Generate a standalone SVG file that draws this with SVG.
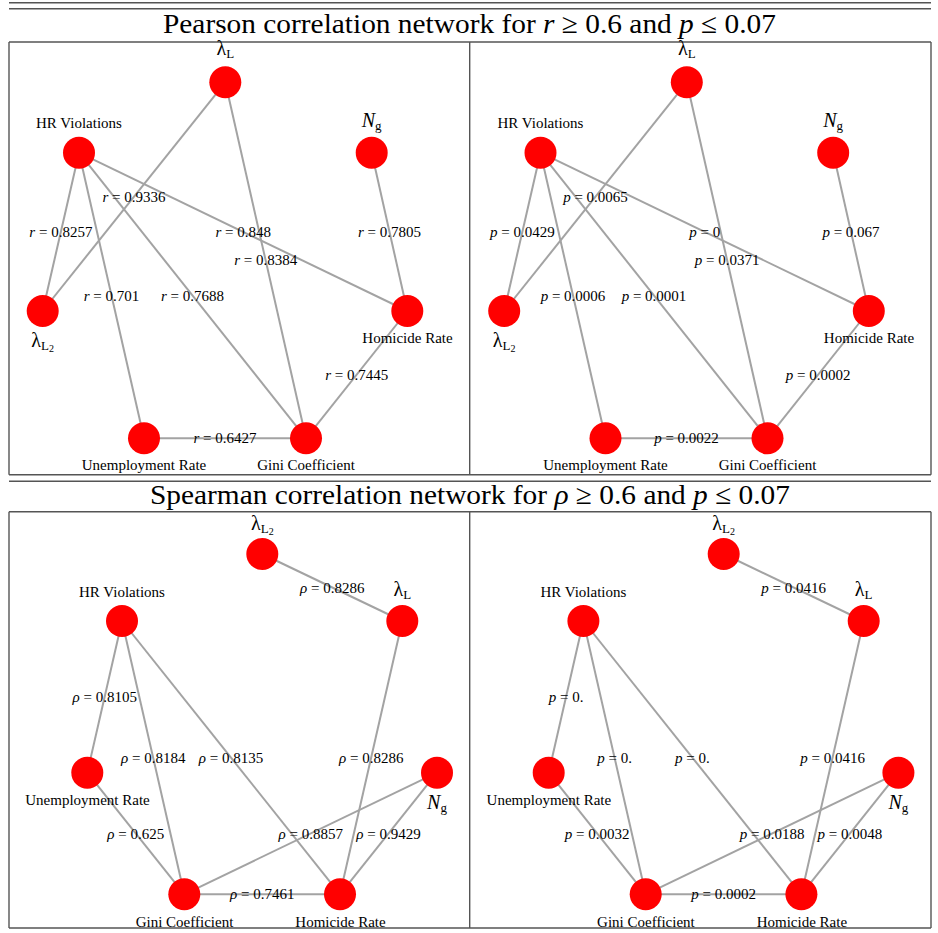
<svg xmlns="http://www.w3.org/2000/svg" width="938" height="933" viewBox="0 0 938 933">
<style>
.rule{stroke:#555;stroke-width:1.4;fill:none}
.edge{stroke:#a3a3a3;stroke-width:2}
.node circle{fill:#ff0000}
text{font-family:"Liberation Serif","Times New Roman",serif;fill:#000}
.lbl{font-size:15px;text-anchor:middle}
.math{font-size:20px;text-anchor:middle}
.sub{font-size:13px}
.sub2{font-size:10px}
.it{font-style:italic}
.title{font-size:28px;text-anchor:middle}
</style>
<rect width="938" height="933" fill="#fff"/>
<g id="table">
<line class="rule" x1="9" y1="2.7" x2="931" y2="2.7"/>
<line class="rule" x1="9" y1="8.7" x2="931" y2="8.7"/>
<line class="rule" x1="9" y1="42" x2="931" y2="42"/>
<line class="rule" x1="9" y1="42" x2="9" y2="474.7"/>
<line class="rule" x1="469.7" y1="42" x2="469.7" y2="474.7"/>
<line class="rule" x1="931" y1="42" x2="931" y2="474.7"/>
<line class="rule" x1="9" y1="474.7" x2="931" y2="474.7"/>
<line class="rule" x1="9" y1="481.3" x2="931" y2="481.3"/>
<line class="rule" x1="9" y1="511.7" x2="931" y2="511.7"/>
<line class="rule" x1="9" y1="511.7" x2="9" y2="928"/>
<line class="rule" x1="469.7" y1="511.7" x2="469.7" y2="928"/>
<line class="rule" x1="931" y1="511.7" x2="931" y2="928"/>
<line class="rule" x1="9" y1="928" x2="931" y2="928"/>
<text class="title" x="469.5" y="33" textLength="613" lengthAdjust="spacingAndGlyphs">Pearson correlation network for <tspan class="it">r</tspan> ≥ 0.6 and <tspan class="it">p</tspan> ≤ 0.07</text>
<text class="title" x="470" y="504" textLength="640" lengthAdjust="spacingAndGlyphs">Spearman correlation network for <tspan class="it">ρ</tspan> ≥ 0.6 and <tspan class="it">p</tspan> ≤ 0.07</text>
</g>

<!-- Panel A: Pearson r -->
<g id="connectors-A">
<line class="edge" x1="79" y1="152.7" x2="42.7" y2="311"/>
<line class="edge" x1="225.3" y1="82.3" x2="42.7" y2="311"/>
<line class="edge" x1="225.3" y1="82.3" x2="306" y2="438.3"/>
<line class="edge" x1="79" y1="152.7" x2="407.3" y2="311"/>
<line class="edge" x1="371.7" y1="152.7" x2="407.3" y2="311"/>
<line class="edge" x1="79" y1="152.7" x2="144" y2="438.3"/>
<line class="edge" x1="79" y1="152.7" x2="306" y2="438.3"/>
<line class="edge" x1="407.3" y1="311" x2="306" y2="438.3"/>
<line class="edge" x1="144" y1="438.3" x2="306" y2="438.3"/>
</g>
<g id="edge-labels-A">
<text class="lbl" x="60.9" y="236.9"><tspan class="it">r</tspan> = 0.8257</text>
<text class="lbl" x="134" y="201.7"><tspan class="it">r</tspan> = 0.9336</text>
<text class="lbl" x="265.7" y="265.3"><tspan class="it">r</tspan> = 0.8384</text>
<text class="lbl" x="243.2" y="236.9"><tspan class="it">r</tspan> = 0.848</text>
<text class="lbl" x="389.5" y="236.9"><tspan class="it">r</tspan> = 0.7805</text>
<text class="lbl" x="111.5" y="300.5"><tspan class="it">r</tspan> = 0.701</text>
<text class="lbl" x="192.5" y="300.5"><tspan class="it">r</tspan> = 0.7688</text>
<text class="lbl" x="356.7" y="379.7"><tspan class="it">r</tspan> = 0.7445</text>
<text class="lbl" x="225" y="443.3"><tspan class="it">r</tspan> = 0.6427</text>
</g>
<g id="A-lambdaL" class="node"><circle cx="225.3" cy="82.3" r="16"/><text class="math" x="225.3" y="55">λ<tspan class="sub" dy="3">L</tspan></text></g>
<g id="A-hr" class="node"><circle cx="79" cy="152.7" r="16"/><text class="lbl" x="79" y="128">HR Violations</text></g>
<g id="A-ng" class="node"><circle cx="371.7" cy="152.7" r="16"/><text class="math" x="371.7" y="127"><tspan class="it">N</tspan><tspan class="sub" dy="3">g</tspan></text></g>
<g id="A-lambdaL2" class="node"><circle cx="42.7" cy="311" r="16"/><text class="math" x="42.7" y="347">λ<tspan class="sub" dy="3">L</tspan><tspan class="sub2" dy="2">2</tspan></text></g>
<g id="A-homicide" class="node"><circle cx="407.3" cy="311" r="16"/><text class="lbl" x="407.5" y="343">Homicide Rate</text></g>
<g id="A-unemp" class="node"><circle cx="144" cy="438.3" r="16"/><text class="lbl" x="144" y="470">Unemployment Rate</text></g>
<g id="A-gini" class="node"><circle cx="306" cy="438.3" r="16"/><text class="lbl" x="306" y="470">Gini Coefficient</text></g>

<!-- Panel B: Pearson p -->
<g transform="translate(461.5,0)">
<g id="connectors-B">
<line class="edge" x1="79" y1="152.7" x2="42.7" y2="311"/>
<line class="edge" x1="225.3" y1="82.3" x2="42.7" y2="311"/>
<line class="edge" x1="225.3" y1="82.3" x2="306" y2="438.3"/>
<line class="edge" x1="79" y1="152.7" x2="407.3" y2="311"/>
<line class="edge" x1="371.7" y1="152.7" x2="407.3" y2="311"/>
<line class="edge" x1="79" y1="152.7" x2="144" y2="438.3"/>
<line class="edge" x1="79" y1="152.7" x2="306" y2="438.3"/>
<line class="edge" x1="407.3" y1="311" x2="306" y2="438.3"/>
<line class="edge" x1="144" y1="438.3" x2="306" y2="438.3"/>
</g>
<g id="edge-labels-B">
<text class="lbl" x="60.9" y="236.9"><tspan class="it">p</tspan> = 0.0429</text>
<text class="lbl" x="134" y="201.7"><tspan class="it">p</tspan> = 0.0065</text>
<text class="lbl" x="265.7" y="265.3"><tspan class="it">p</tspan> = 0.0371</text>
<text class="lbl" x="243.2" y="236.9"><tspan class="it">p</tspan> = 0</text>
<text class="lbl" x="389.5" y="236.9"><tspan class="it">p</tspan> = 0.067</text>
<text class="lbl" x="111.5" y="300.5"><tspan class="it">p</tspan> = 0.0006</text>
<text class="lbl" x="192.5" y="300.5"><tspan class="it">p</tspan> = 0.0001</text>
<text class="lbl" x="356.7" y="379.7"><tspan class="it">p</tspan> = 0.0002</text>
<text class="lbl" x="225" y="443.3"><tspan class="it">p</tspan> = 0.0022</text>
</g>
<g id="B-lambdaL" class="node"><circle cx="225.3" cy="82.3" r="16"/><text class="math" x="225.3" y="55">λ<tspan class="sub" dy="3">L</tspan></text></g>
<g id="B-hr" class="node"><circle cx="79" cy="152.7" r="16"/><text class="lbl" x="79" y="128">HR Violations</text></g>
<g id="B-ng" class="node"><circle cx="371.7" cy="152.7" r="16"/><text class="math" x="371.7" y="127"><tspan class="it">N</tspan><tspan class="sub" dy="3">g</tspan></text></g>
<g id="B-lambdaL2" class="node"><circle cx="42.7" cy="311" r="16"/><text class="math" x="42.7" y="347">λ<tspan class="sub" dy="3">L</tspan><tspan class="sub2" dy="2">2</tspan></text></g>
<g id="B-homicide" class="node"><circle cx="407.3" cy="311" r="16"/><text class="lbl" x="407.5" y="343">Homicide Rate</text></g>
<g id="B-unemp" class="node"><circle cx="144" cy="438.3" r="16"/><text class="lbl" x="144" y="470">Unemployment Rate</text></g>
<g id="B-gini" class="node"><circle cx="306" cy="438.3" r="16"/><text class="lbl" x="306" y="470">Gini Coefficient</text></g>
</g>

<!-- Panel C: Spearman rho -->
<g id="connectors-C">
<line class="edge" x1="262.3" y1="554" x2="402.3" y2="621"/>
<line class="edge" x1="122" y1="621" x2="87.3" y2="772.7"/>
<line class="edge" x1="122" y1="621" x2="184.3" y2="894.3"/>
<line class="edge" x1="122" y1="621" x2="340" y2="894.3"/>
<line class="edge" x1="402.3" y1="621" x2="340" y2="894.3"/>
<line class="edge" x1="87.3" y1="772.7" x2="184.3" y2="894.3"/>
<line class="edge" x1="437" y1="772.7" x2="184.3" y2="894.3"/>
<line class="edge" x1="437" y1="772.7" x2="340" y2="894.3"/>
<line class="edge" x1="184.3" y1="894.3" x2="340" y2="894.3"/>
</g>
<g id="edge-labels-C">
<text class="lbl" x="332.3" y="592.5"><tspan class="it">ρ</tspan> = 0.8286</text>
<text class="lbl" x="104.7" y="701.9"><tspan class="it">ρ</tspan> = 0.8105</text>
<text class="lbl" x="153.2" y="762.7"><tspan class="it">ρ</tspan> = 0.8184</text>
<text class="lbl" x="231" y="762.7"><tspan class="it">ρ</tspan> = 0.8135</text>
<text class="lbl" x="371.2" y="762.7"><tspan class="it">ρ</tspan> = 0.8286</text>
<text class="lbl" x="135.8" y="838.5"><tspan class="it">ρ</tspan> = 0.625</text>
<text class="lbl" x="310.7" y="838.5"><tspan class="it">ρ</tspan> = 0.8857</text>
<text class="lbl" x="388.5" y="838.5"><tspan class="it">ρ</tspan> = 0.9429</text>
<text class="lbl" x="262.2" y="899.3"><tspan class="it">ρ</tspan> = 0.7461</text>
</g>
<g id="C-lambdaL2" class="node"><circle cx="262.3" cy="554" r="16"/><text class="math" x="262.3" y="530">λ<tspan class="sub" dy="3">L</tspan><tspan class="sub2" dy="2">2</tspan></text></g>
<g id="C-lambdaL" class="node"><circle cx="402.3" cy="621" r="16"/><text class="math" x="402.3" y="596">λ<tspan class="sub" dy="3">L</tspan></text></g>
<g id="C-hr" class="node"><circle cx="122" cy="621" r="16"/><text class="lbl" x="122" y="597">HR Violations</text></g>
<g id="C-unemp" class="node"><circle cx="87.3" cy="772.7" r="16"/><text class="lbl" x="87.5" y="805">Unemployment Rate</text></g>
<g id="C-ng" class="node"><circle cx="437" cy="772.7" r="16"/><text class="math" x="437" y="809"><tspan class="it">N</tspan><tspan class="sub" dy="3">g</tspan></text></g>
<g id="C-gini" class="node"><circle cx="184.3" cy="894.3" r="16"/><text class="lbl" x="184.5" y="927">Gini Coefficient</text></g>
<g id="C-homicide" class="node"><circle cx="340" cy="894.3" r="16"/><text class="lbl" x="340.5" y="927">Homicide Rate</text></g>

<!-- Panel D: Spearman p -->
<g transform="translate(461.4,0)">
<g id="connectors-D">
<line class="edge" x1="262.3" y1="554" x2="402.3" y2="621"/>
<line class="edge" x1="122" y1="621" x2="87.3" y2="772.7"/>
<line class="edge" x1="122" y1="621" x2="184.3" y2="894.3"/>
<line class="edge" x1="122" y1="621" x2="340" y2="894.3"/>
<line class="edge" x1="402.3" y1="621" x2="340" y2="894.3"/>
<line class="edge" x1="87.3" y1="772.7" x2="184.3" y2="894.3"/>
<line class="edge" x1="437" y1="772.7" x2="184.3" y2="894.3"/>
<line class="edge" x1="437" y1="772.7" x2="340" y2="894.3"/>
<line class="edge" x1="184.3" y1="894.3" x2="340" y2="894.3"/>
</g>
<g id="edge-labels-D">
<text class="lbl" x="332.3" y="592.5"><tspan class="it">p</tspan> = 0.0416</text>
<text class="lbl" x="104.7" y="701.9"><tspan class="it">p</tspan> = 0.</text>
<text class="lbl" x="153.2" y="762.7"><tspan class="it">p</tspan> = 0.</text>
<text class="lbl" x="231" y="762.7"><tspan class="it">p</tspan> = 0.</text>
<text class="lbl" x="371.2" y="762.7"><tspan class="it">p</tspan> = 0.0416</text>
<text class="lbl" x="135.8" y="838.5"><tspan class="it">p</tspan> = 0.0032</text>
<text class="lbl" x="310.7" y="838.5"><tspan class="it">p</tspan> = 0.0188</text>
<text class="lbl" x="388.5" y="838.5"><tspan class="it">p</tspan> = 0.0048</text>
<text class="lbl" x="262.2" y="899.3"><tspan class="it">p</tspan> = 0.0002</text>
</g>
<g id="D-lambdaL2" class="node"><circle cx="262.3" cy="554" r="16"/><text class="math" x="262.3" y="530">λ<tspan class="sub" dy="3">L</tspan><tspan class="sub2" dy="2">2</tspan></text></g>
<g id="D-lambdaL" class="node"><circle cx="402.3" cy="621" r="16"/><text class="math" x="402.3" y="596">λ<tspan class="sub" dy="3">L</tspan></text></g>
<g id="D-hr" class="node"><circle cx="122" cy="621" r="16"/><text class="lbl" x="122" y="597">HR Violations</text></g>
<g id="D-unemp" class="node"><circle cx="87.3" cy="772.7" r="16"/><text class="lbl" x="87.5" y="805">Unemployment Rate</text></g>
<g id="D-ng" class="node"><circle cx="437" cy="772.7" r="16"/><text class="math" x="437" y="809"><tspan class="it">N</tspan><tspan class="sub" dy="3">g</tspan></text></g>
<g id="D-gini" class="node"><circle cx="184.3" cy="894.3" r="16"/><text class="lbl" x="184.5" y="927">Gini Coefficient</text></g>
<g id="D-homicide" class="node"><circle cx="340" cy="894.3" r="16"/><text class="lbl" x="340.5" y="927">Homicide Rate</text></g>
</g>
</svg>
